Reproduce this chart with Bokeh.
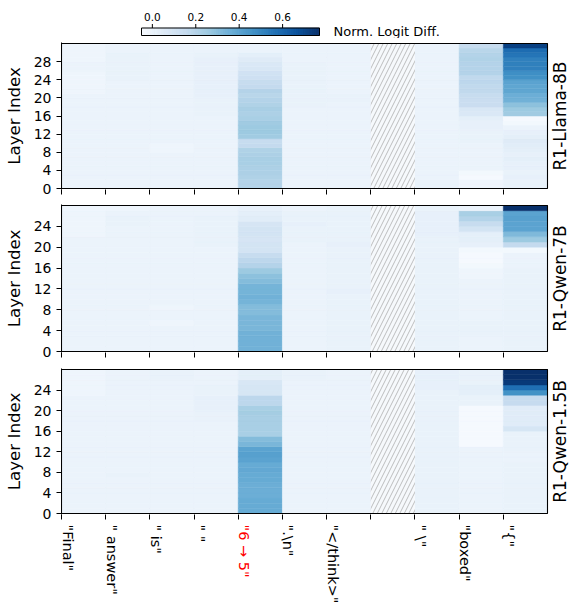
import numpy as np
from bokeh.plotting import figure
from bokeh.models import Range1d, FixedTicker, LinearColorMapper, ColumnDataSource, CustomJSTickFormatter
from bokeh.layouts import column
from bokeh.transform import transform
from bokeh.core.properties import value
from bokeh.palettes import Blues9
from bokeh.embed import file_html
from bokeh.resources import INLINE

# ---------------- data ----------------
tokens = ['"Final"', '" answer"', '" is"', '" "', '"6 → 5"', '".\\n"', '"</think>"', '',
          '" \\"', '"boxed"', '"{"']
highlight_token = '"6 → 5"'
model_names = ["R1-Llama-8B", "R1-Qwen-7B", "R1-Qwen-1.5B"]
cbar_ticks = [0.0, 0.2, 0.4, 0.6]
vmin, vmax = -0.05, 0.77
cbar_label = "Norm. Logit Diff."
y_label = "Layer Index"

# R1-Llama-8B (32 layers, layer 0 first)
L_final = [0.00, 0.00, 0.00, 0.00, 0.00, 0.00, 0.00, 0.00,
           0.00, 0.00, 0.00, 0.00, 0.00, 0.00, 0.00, 0.00,
           0.00, 0.00, 0.00, 0.00, 0.00, -0.01, -0.01, -0.01,
           -0.01, -0.01, 0.00, 0.00, -0.01, -0.01, -0.01, -0.01]
L_answer = [0.00, 0.00, 0.00, 0.00, 0.00, 0.00, 0.00, 0.00,
            0.00, 0.00, 0.00, 0.00, 0.00, 0.00, 0.00, 0.00,
            0.00, 0.00, 0.00, 0.00, 0.00, 0.00, 0.00, 0.00,
            0.01, 0.01, 0.01, 0.01, 0.01, 0.01, 0.00, 0.00]
L_is = [0.00, 0.00, 0.00, 0.00, 0.00, 0.00, 0.00, 0.00,
        -0.01, -0.01, 0.00, 0.00, 0.00, 0.00, 0.00, 0.00,
        0.00, 0.00, 0.00, 0.00, 0.00, 0.00, 0.00, 0.00,
        0.00, 0.00, 0.00, 0.00, 0.00, 0.00, 0.00, 0.00]
L_space = [0.00, 0.00, 0.00, 0.00, 0.00, 0.00, 0.00, 0.00,
           0.00, 0.00, 0.00, 0.00, 0.00, 0.00, 0.00, 0.00,
           0.01, 0.01, 0.01, 0.01, 0.02, 0.02, 0.02, 0.02,
           0.02, 0.02, 0.02, 0.02, 0.02, 0.01, 0.00, 0.00]
L_num = [0.20, 0.20, 0.21, 0.22, 0.22, 0.23, 0.23, 0.22,
         0.21, 0.16, 0.15, 0.25, 0.26, 0.26, 0.25, 0.23,
         0.22, 0.23, 0.21, 0.20, 0.19, 0.20, 0.16, 0.15,
         0.12, 0.11, 0.08, 0.07, 0.05, 0.03, 0.00, 0.00]
L_newline = [0.00, 0.00, 0.00, 0.00, 0.00, 0.00, 0.00, 0.00,
             0.00, 0.00, 0.00, 0.00, 0.00, 0.00, 0.00, 0.00,
             0.00, 0.00, 0.01, 0.01, 0.01, 0.01, 0.01, 0.01,
             0.01, 0.01, 0.01, 0.01, 0.00, 0.00, 0.00, 0.00]
L_think = [0.00, 0.00, 0.00, 0.00, 0.00, 0.00, 0.00, 0.00,
           0.00, 0.00, 0.00, 0.00, 0.00, 0.00, 0.00, 0.00,
           0.00, 0.00, 0.00, 0.01, 0.01, 0.00, 0.00, 0.00,
           0.00, 0.00, 0.00, 0.00, 0.00, 0.00, 0.00, 0.00]
L_backslash = [0.01, 0.01, 0.00, 0.00, 0.00, 0.00, 0.00, 0.00,
               0.00, 0.00, 0.00, 0.00, 0.00, 0.00, 0.00, 0.00,
               0.00, 0.00, 0.00, 0.00, 0.00, 0.00, 0.00, 0.00,
               0.00, 0.00, 0.00, 0.00, 0.00, 0.00, 0.00, 0.00]
L_boxed = [-0.01, -0.01, -0.04, -0.03, 0.00, 0.00, 0.00, 0.00,
           0.00, 0.00, 0.01, 0.01, 0.01, 0.02, 0.02, 0.03,
           0.07, 0.08, 0.14, 0.14, 0.15, 0.17, 0.17, 0.18,
           0.17, 0.20, 0.20, 0.20, 0.21, 0.20, 0.19, 0.15]
L_brace = [0.01, 0.01, 0.02, 0.01, 0.02, 0.02, 0.03, 0.02,
           0.03, 0.04, 0.05, 0.03, 0.02, 0.00, -0.03, -0.04,
           0.25, 0.26, 0.29, 0.35, 0.36, 0.39, 0.39, 0.40,
           0.46, 0.47, 0.52, 0.52, 0.52, 0.55, 0.58, 0.72]

# R1-Qwen-7B (28 layers)
Q7_final = [0.00, 0.00, 0.00, 0.00, 0.00, 0.00, 0.00, 0.00,
            0.00, 0.00, 0.00, 0.00, 0.00, 0.00, 0.00, 0.00,
            0.00, 0.00, 0.00, 0.00, 0.00, 0.00, -0.01, -0.01,
            -0.01, -0.01, -0.01, -0.01]
Q7_answer = [0.00, 0.00, 0.00, 0.00, 0.00, 0.00, 0.00, 0.00,
             0.00, 0.00, 0.00, 0.00, 0.00, 0.00, 0.00, 0.00,
             0.00, 0.00, 0.00, 0.00, 0.00, 0.00, 0.00, 0.00,
             0.01, 0.01, 0.00, -0.01]
Q7_is = [0.00, 0.00, 0.00, 0.00, 0.00, -0.01, 0.00, 0.00,
         -0.01, 0.00, 0.00, 0.00, 0.00, 0.00, 0.00, 0.00,
         0.00, 0.00, 0.00, 0.00, 0.00, 0.00, 0.00, 0.00,
         0.00, 0.00, 0.00, 0.00]
Q7_space = [0.00, 0.00, 0.00, 0.00, 0.00, 0.00, 0.00, 0.00,
            0.00, 0.00, 0.00, 0.00, 0.00, 0.00, 0.00, 0.00,
            0.00, 0.00, 0.00, 0.00, 0.01, 0.01, 0.01, 0.01,
            0.01, 0.01, 0.00, 0.00]
Q7_num = [0.35, 0.35, 0.35, 0.35, 0.33, 0.33, 0.33, 0.31,
          0.31, 0.34, 0.35, 0.34, 0.34, 0.31, 0.29, 0.26,
          0.20, 0.18, 0.15, 0.10, 0.10, 0.09, 0.10, 0.10,
          0.09, 0.04, 0.03, 0.02]
Q7_newline = [0.00, 0.00, 0.00, 0.00, 0.00, 0.00, 0.00, 0.00,
              0.00, 0.00, 0.00, 0.00, 0.00, 0.00, 0.00, 0.00,
              0.00, 0.00, 0.00, 0.00, 0.00, 0.01, 0.01, 0.01,
              0.02, 0.01, 0.01, 0.00]
Q7_think = [0.01, 0.01, 0.01, 0.01, 0.01, 0.01, 0.01, 0.01,
            0.01, 0.01, 0.01, 0.02, 0.01, 0.01, 0.01, 0.01,
            0.01, 0.01, 0.01, 0.01, 0.02, 0.01, 0.01, 0.01,
            0.01, 0.01, 0.01, 0.01]
Q7_backslash = [0.01, 0.01, 0.01, 0.01, 0.01, 0.01, 0.01, 0.01,
                0.01, 0.01, 0.01, 0.01, 0.01, 0.01, 0.01, 0.01,
                0.01, 0.01, 0.01, 0.01, 0.01, 0.01, 0.02, 0.02,
                0.02, 0.02, 0.02, 0.01]
Q7_boxed = [0.00, 0.00, 0.00, 0.01, 0.01, 0.01, 0.00, 0.00,
            0.00, 0.00, 0.00, 0.00, 0.00, 0.00, -0.01, -0.01,
            -0.03, -0.04, -0.04, -0.03, 0.02, 0.03, 0.03, 0.10,
            0.15, 0.20, 0.23, 0.00]
Q7_brace = [0.01, 0.01, 0.01, 0.01, 0.01, 0.01, 0.01, 0.01,
            0.01, 0.01, 0.01, 0.01, 0.01, 0.01, 0.01, 0.01,
            0.00, 0.00, 0.00, -0.03, 0.16, 0.26, 0.32, 0.40,
            0.40, 0.41, 0.40, 0.77]

# R1-Qwen-1.5B (28 layers)
Q15_final = [0.00, 0.00, 0.00, 0.00, 0.00, 0.00, 0.00, 0.00,
             0.00, 0.00, 0.00, 0.00, 0.00, 0.00, 0.00, 0.00,
             0.00, 0.00, 0.00, 0.00, 0.00, 0.00, 0.00, -0.01,
             -0.01, -0.01, -0.01, -0.01]
Q15_answer = [0.00, 0.00, 0.00, 0.00, 0.00, 0.00, 0.00, 0.01,
              0.00, 0.00, 0.00, 0.00, 0.00, 0.00, 0.00, 0.00,
              0.00, 0.00, 0.00, 0.00, 0.00, 0.00, 0.00, 0.00,
              0.00, 0.00, 0.00, 0.00]
Q15_is = [0.00, 0.00, 0.00, 0.00, 0.00, 0.00, 0.00, 0.00,
          0.00, 0.00, 0.00, 0.00, 0.00, 0.00, 0.00, 0.00,
          0.00, 0.00, 0.00, 0.00, 0.00, 0.00, 0.00, 0.00,
          0.00, 0.00, 0.01, 0.01]
Q15_space = [0.00, 0.00, 0.00, 0.00, 0.00, 0.00, 0.00, 0.00,
             0.00, 0.00, 0.00, 0.00, 0.00, 0.00, 0.00, 0.00,
             0.00, 0.00, 0.01, 0.01, 0.02, 0.02, 0.02, 0.01,
             0.01, 0.00, 0.00, 0.00]
Q15_num = [0.37, 0.37, 0.37, 0.36, 0.36, 0.36, 0.37, 0.37,
           0.38, 0.37, 0.40, 0.41, 0.40, 0.33, 0.31, 0.23,
           0.23, 0.23, 0.23, 0.24, 0.23, 0.18, 0.18, 0.085,
           0.085, 0.08, 0.03, 0.03]
Q15_newline = [0.00, 0.00, 0.00, 0.00, 0.00, 0.00, 0.00, 0.00,
               0.00, 0.00, 0.00, 0.00, 0.00, 0.00, 0.00, 0.00,
               0.00, 0.00, 0.00, 0.00, 0.00, 0.00, 0.00, 0.00,
               0.00, 0.00, 0.01, 0.01]
Q15_think = [0.00, 0.00, 0.00, 0.00, 0.00, 0.00, 0.00, 0.00,
             0.00, 0.00, 0.00, 0.00, 0.00, 0.00, 0.00, 0.00,
             0.00, 0.00, 0.00, 0.00, 0.00, 0.00, 0.00, 0.00,
             0.00, 0.00, 0.00, 0.00]
Q15_backslash = [0.01, 0.01, 0.01, 0.01, 0.01, 0.01, 0.01, 0.01,
                 0.01, 0.01, 0.01, 0.01, 0.01, 0.01, 0.01, 0.01,
                 0.01, 0.01, 0.01, 0.01, 0.01, 0.01, 0.01, 0.01,
                 0.02, 0.02, 0.02, 0.02]
Q15_boxed = [0.00, 0.00, 0.00, 0.00, 0.00, 0.00, 0.00, 0.00,
             0.00, 0.00, 0.00, 0.00, 0.00, -0.04, -0.04, -0.04,
             -0.04, -0.04, -0.04, -0.04, -0.04, 0.01, 0.01, 0.03,
             0.03, 0.01, 0.01, 0.01]
Q15_brace = [0.01, 0.01, 0.01, 0.01, 0.01, 0.01, 0.01, 0.01,
             0.01, 0.01, 0.00, 0.00, 0.01, 0.01, 0.01, 0.01,
             0.085, 0.045, 0.045, 0.045, 0.045, 0.155, 0.155, 0.46,
             0.57, 0.74, 0.77, 0.77]

# None = token column without data (hatched)
llama_8b = [L_final, L_answer, L_is, L_space, L_num, L_newline, L_think, None,
            L_backslash, L_boxed, L_brace]
qwen_7b = [Q7_final, Q7_answer, Q7_is, Q7_space, Q7_num, Q7_newline, Q7_think, None,
           Q7_backslash, Q7_boxed, Q7_brace]
qwen_1_5b = [Q15_final, Q15_answer, Q15_is, Q15_space, Q15_num, Q15_newline, Q15_think, None,
             Q15_backslash, Q15_boxed, Q15_brace]
model_data = [llama_8b, qwen_7b, qwen_1_5b]

# ---------------- layout / style ----------------
FONT = "DejaVu Sans"
W = 569
FRAME_L = 61            # left edge of heat maps
HEAT_W = 486            # width of heat maps in px
FRAME_W = W - FRAME_L   # frames run to the window's right edge
X_END = len(tokens) * FRAME_W / HEAT_W


def hex_rgb(h):
    h = h.lstrip("#")
    return np.array([int(h[i:i + 2], 16) for i in (0, 2, 4)], dtype=float)


base = [hex_rgb(c) for c in reversed(Blues9)]  # light -> dark
palette = []
for t in np.linspace(0, 1, 256):
    pos = t * (len(base) - 1)
    i = min(int(pos), len(base) - 2)
    f = pos - i
    c = base[i] * (1 - f) + base[i + 1] * f
    palette.append("#%02x%02x%02x" % tuple(int(round(v)) for v in c))

mapper = LinearColorMapper(palette=palette, low=vmin, high=vmax)


def bare_figure(height, x_range, y_range, **kw):
    f = figure(width=W, height=height, x_range=x_range, y_range=y_range,
               toolbar_location=None, output_backend="svg", min_border_left=FRAME_L,
               min_border_right=0, **kw)
    f.grid.visible = False
    f.outline_line_color = None
    f.background_fill_color = "white"
    f.border_fill_color = "white"
    return f


# ---------------- colorbar ----------------
CB_H = 38
CB_BAR_L, CB_BAR_R = 141, 319          # px, bar extent
px = (vmax - vmin) / (CB_BAR_R - CB_BAR_L)
cb_x0 = vmin - (CB_BAR_L - FRAME_L) * px
cb_x1 = vmax + (W - CB_BAR_R) * px
cb = bare_figure(CB_H, Range1d(cb_x0, cb_x1), Range1d(0, CB_H),
                 x_axis_location=None, y_axis_location=None,
                 min_border_top=0, min_border_bottom=0)
bar_bot, bar_top = 3, 10.5
edges = np.linspace(vmin, vmax, len(palette) + 1)
cb.quad(left=edges[:-1], right=edges[1:], bottom=bar_bot, top=bar_top, fill_color=palette,
        line_color=palette, line_width=0.6)
cb.quad(left=[vmin], right=[vmax], bottom=[bar_bot], top=[bar_top], fill_color=None,
        line_color="black", line_width=1)
cb.segment(x0=cbar_ticks, x1=cbar_ticks, y0=bar_top, y1=bar_top + 4, line_color="black",
           line_width=1)
cb.text(x=cbar_ticks, y=[bar_top + 7.5] * len(cbar_ticks),
        text=["%.1f" % t for t in cbar_ticks], text_align="center", text_baseline="bottom",
        text_font=value(FONT), text_font_size=value("10.5px"), text_color="black")
cb.text(x=[vmax], y=[(bar_bot + bar_top) / 2], x_offset=14, text=[cbar_label],
        text_align="left", text_baseline="middle", text_font=value(FONT),
        text_font_size=value("13px"), text_color="black")

# ---------------- heatmap panels ----------------
# (figure height, top border, bottom border, frame height)
panel_geom = [(160, 4, 9, 147), (163, 6, 9, 148), (161, 7, 8, 146)]
figs = [cb]
for k, (name, data) in enumerate(zip(model_names, model_data)):
    height, btop, bbot, fh = panel_geom[k]
    nl = max(len(c) for c in data if c is not None)
    pad = nl / fh  # one pixel
    p = bare_figure(height, Range1d(0, X_END), Range1d(-pad, nl + pad),
                    min_border_top=btop, min_border_bottom=bbot)
    l, r, b, t, v = [], [], [], [], []
    for ci, col in enumerate(data):
        if col is None:
            continue
        for li, val in enumerate(col):
            l.append(ci); r.append(ci + 1); b.append(li); t.append(li + 1); v.append(val)
    src = ColumnDataSource(dict(l=l, r=r, b=b, t=t, v=v))
    p.quad(left="l", right="r", bottom="b", top="t", source=src,
           fill_color=transform("v", mapper), line_color=transform("v", mapper), line_width=0.5)
    for ci, col in enumerate(data):
        if col is None:
            p.quad(left=[ci], right=[ci + 1], bottom=[0], top=[nl], fill_color="#f6f9fc",
                   line_color=None, hatch_pattern="/", hatch_color="#adadad",
                   hatch_scale=9, hatch_weight=0.8)
    p.quad(left=[0], right=[len(tokens)], bottom=[0], top=[nl], fill_color=None,
           line_color="black", line_width=1.1)
    p.text(x=[len(tokens)], y=[nl / 2], x_offset=2, text=[name], angle=np.pi / 2,
           text_align="center", text_baseline="top", text_font=value(FONT),
           text_font_size=value("17px"), text_color="black")

    p.xaxis.ticker = FixedTicker(ticks=list(range(len(tokens))))
    p.xaxis.formatter = CustomJSTickFormatter(code="return ''")
    p.xaxis.major_label_text_font_size = "0px"
    p.xaxis.major_label_standoff = 0
    p.xaxis.major_tick_out = 5
    p.xaxis.major_tick_in = 0
    p.xaxis.minor_tick_out = 0
    p.xaxis.minor_tick_in = 0
    p.xaxis.axis_line_color = None
    p.xaxis.major_tick_line_color = "black"

    p.yaxis.ticker = FixedTicker(ticks=list(range(0, nl, 4)))
    p.yaxis.major_label_text_font = FONT
    p.yaxis.major_label_text_font_size = "14px"
    p.yaxis.major_label_text_color = "black"
    p.yaxis.major_tick_out = 5
    p.yaxis.major_tick_in = 0
    p.yaxis.minor_tick_out = 0
    p.yaxis.minor_tick_in = 0
    p.yaxis.major_label_standoff = 5
    p.yaxis.axis_line_color = "black"
    p.yaxis.axis_label = y_label
    p.yaxis.axis_label_text_font = FONT
    p.yaxis.axis_label_text_font_size = "16.7px"
    p.yaxis.axis_label_text_font_style = "normal"
    p.yaxis.axis_label_text_color = "black"
    p.yaxis.axis_label_standoff = 7
    figs.append(p)

# ---------------- token labels under the last panel ----------------
LAB_H = 83
lab = bare_figure(LAB_H, Range1d(0, X_END), Range1d(0, LAB_H),
                  x_axis_location=None, y_axis_location=None,
                  min_border_top=0, min_border_bottom=0)
lx, ltxt, lcol = [], [], []
for ci, tok in enumerate(tokens):
    if tok:
        lx.append(ci)
        ltxt.append(tok)
        lcol.append("red" if tok == highlight_token else "black")
lab.text(x=lx, y=[LAB_H - 2] * len(lx), x_offset=-2, text=ltxt, text_color=lcol,
         angle=-np.pi / 2, text_align="left", text_baseline="bottom",
         text_font=value(FONT), text_font_size=value("14.5px"))
figs.append(lab)

layout = column(*figs, spacing=0)
open("out.html", "w").write(file_html(layout, INLINE))
